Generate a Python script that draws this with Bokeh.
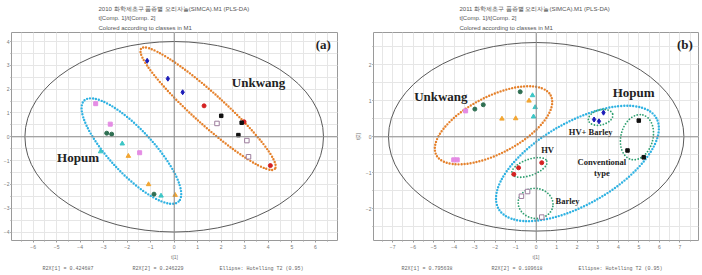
from bokeh.plotting import figure
from bokeh.models import Range1d, Span, Label, Title, SingleIntervalTicker
from bokeh.layouts import row
from bokeh.embed import file_html
from bokeh.resources import INLINE

# ---------------- 2010 PLS-DA scores (panel a) ----------------
a_blue_x = [-1.15, -0.27, 0.36]
a_blue_y = [3.19, 2.44, 1.87]
a_red_x = [1.27, 2.97, 4.09]
a_red_y = [1.30, 0.63, -1.21]
a_black_x = [2.00, 2.87, 2.73]
a_black_y = [0.88, 0.59, 0.07]
a_open_x = [1.82, 3.09, 3.16]
a_open_y = [0.56, -0.16, -0.84]
a_pink_x = [-3.34, -2.72, -1.47]
a_pink_y = [1.39, 0.53, -0.67]
a_green_x = [-2.87, -2.66, -0.86]
a_green_y = [0.15, 0.11, -2.41]
a_cyan_x = [-2.21, -3.13, -0.56]
a_cyan_y = [-0.29, -0.62, -2.48]
a_orange_x = [-1.95, -1.09, 0.04]
a_orange_y = [-0.81, -2.00, -2.45]

# ---------------- 2011 PLS-DA scores (panel b) ----------------
b_green_x = [-0.78, -2.58, -2.99]
b_green_y = [1.25, 0.89, 0.77]
b_cyan_x = [-0.18, -0.05, -0.13]
b_cyan_y = [1.15, 0.82, 0.56]
b_orange_x = [-0.35, -1.67, -1.00]
b_orange_y = [1.00, 0.50, 0.51]
b_pink_x = [-3.44, -4.02, -3.85]
b_pink_y = [0.72, -0.64, -0.64]
b_blue_x = [3.28, 2.82, 3.06]
b_blue_y = [0.67, 0.48, 0.43]
b_black_x = [5.00, 4.45, 5.24]
b_black_y = [0.45, -0.38, -0.57]
b_red_x = [0.27, -0.86, -1.09]
b_red_y = [-0.72, -0.86, -1.04]
b_open_x = [-0.72, -0.42, 0.27]
b_open_y = [-1.65, -1.52, -2.23]

# Hotelling T2 (0.95) ellipse semi-axes
a_t2 = (6.35, 4.0)
b_t2 = (7.2, 2.62)

titles_a = ["2010 화학제초구 품종별 오리자놀(SIMCA).M1 (PLS-DA)",
            "t[Comp. 1]/t[Comp. 2]",
            "Colored according to classes in M1"]
titles_b = ["2011 화학제초구 품종별 오리자놀(SIMCA).M1 (PLS-DA)",
            "t[Comp. 1]/t[Comp. 2]",
            "Colored according to classes in M1"]
foot_a = ["R2X[1] = 0.424687", "R2X[2] = 0.246229", "Ellipse: Hotelling T2 (0.95)"]
foot_b = ["R2X[1] = 0.795638", "R2X[2] = 0.109618", "Ellipse: Hotelling T2 (0.95)"]

BLUE, RED, BLACK, OPEN = "#1c1cb8", "#d42222", "#111111", "#9c7c9c"
PINK, DGREEN, CYAN, ORANGE = "#e48ce4", "#2f6f52", "#3cc6c6", "#f2a531"
OVAL_ORANGE, OVAL_CYAN, OVAL_GREEN = "#e5802a", "#2fb2e2", "#2f9f70"
SERIF = "Liberation Serif"
SANS = "Liberation Sans"
MONO = "Liberation Mono"
NBSP = "\u00a0"


def base_panel(xr, yr, left, right, ylabel):
    p = figure(width=351, height=275, x_range=Range1d(*xr), y_range=Range1d(*yr),
               output_backend="svg", toolbar_location=None, title=None,
               min_border_left=left, min_border_right=right,
               min_border_top=32, min_border_bottom=35,
               background_fill_color="white", border_fill_color="white",
               outline_line_color="#9a9a9a", outline_line_width=1)
    for ax, gr in ((p.xaxis, p.xgrid), (p.yaxis, p.ygrid)):
        t = SingleIntervalTicker(interval=1, num_minor_ticks=2)
        ax.ticker = t
        gr.ticker = t
        gr.grid_line_color = "#e6e6e6"
        gr.minor_grid_line_color = "#e6e6e6"
        ax.axis_line_color = None
        ax.major_tick_line_color = "#9a9a9a"
        ax.minor_tick_line_color = "#9a9a9a"
        ax.major_tick_in = 0
        ax.minor_tick_in = 0
        ax.minor_tick_out = 1
        ax.major_label_text_font = SANS
        ax.major_label_text_font_size = "5px"
        ax.major_label_text_color = "#777777"
        ax.axis_label_text_font = SANS
        ax.axis_label_text_font_size = "5px"
        ax.axis_label_text_font_style = "normal"
        ax.axis_label_text_color = "#777777"
    p.xaxis.major_tick_out = 2
    p.xaxis.major_label_standoff = 2
    p.xaxis.axis_label = "t[1]"
    p.xaxis.axis_label_standoff = 2
    p.yaxis.major_tick_out = 1
    p.yaxis.major_label_standoff = 1
    if ylabel:
        p.yaxis.axis_label = ylabel
        p.yaxis.axis_label_standoff = 2
    else:
        p.yaxis.axis_label_standoff = 0
    p.add_layout(Span(location=0, dimension="height", line_color="#8c8c8c", line_width=1))
    p.add_layout(Span(location=0, dimension="width", line_color="#8c8c8c", line_width=1))
    return p


def head_and_foot(p, titles, foot, shift, foot_shift):
    # header lines, innermost first
    for i, t in enumerate(reversed(titles)):
        p.add_layout(Title(text=t, align="left", offset=shift,
                           standoff=3 if i == 0 else 0.5,
                           text_font=SANS, text_font_size="6px",
                           text_font_style="normal", text_color="#555555"), "above")
    line = foot[0] + NBSP * 13 + foot[1] + NBSP * 12 + foot[2]
    p.add_layout(Title(text=line, align="left", offset=foot_shift, standoff=2,
                       text_font=MONO, text_font_size="5px",
                       text_font_style="normal", text_color="#666666"), "below")


def points(p, x, y, marker, color, size, open_=False):
    p.scatter(x, y, marker=marker, size=size, line_width=1,
              line_color=color, fill_color="white" if open_ else color)


def oval(p, cx, cy, w, h, ang, color, lw, units="data"):
    p.ellipse(x=[cx], y=[cy], width=[w], height=[h], angle=[ang], angle_units="deg",
              width_units=units, height_units=units,
              fill_color=None, line_color=color, line_width=lw,
              line_dash="0 3", line_cap="round")


def tag(p, x, y, text, size, align="left"):
    p.add_layout(Label(x=x, y=y, text=text, text_font=SERIF, text_font_style="bold",
                       text_font_size=size, text_color="#222222",
                       text_align=align, text_baseline="middle"))


# ---------------- panel a ----------------
pa = base_panel((-6.92, 6.945), (-4.357, 4.38), 7, 14, None)
pa.ellipse(x=[0], y=[0], width=[2 * a_t2[0]], height=[2 * a_t2[1]],
           fill_color=None, line_color="#5a5a5a", line_width=1)
oval(pa, 1.44, 1.18, 7.65, 1.30, -42, OVAL_ORANGE, 2.4)
oval(pa, -1.82, -0.60, 5.88, 1.85, -47, OVAL_CYAN, 2.4)
points(pa, a_blue_x, a_blue_y, "diamond", BLUE, 5)
points(pa, a_red_x, a_red_y, "circle", RED, 4)
points(pa, a_black_x, a_black_y, "square", BLACK, 3.5)
points(pa, a_open_x, a_open_y, "square", OPEN, 4.5, open_=True)
points(pa, a_pink_x, a_pink_y, "square", PINK, 4)
points(pa, a_green_x, a_green_y, "circle", DGREEN, 4)
points(pa, a_cyan_x, a_cyan_y, "triangle", CYAN, 4.5)
points(pa, a_orange_x, a_orange_y, "triangle", ORANGE, 4.5)
tag(pa, 2.45, 2.27, "Unkwang", "13px")
tag(pa, -4.98, -0.88, "Hopum", "13px")
tag(pa, 6.02, 3.88, "(a)", "13px")
head_and_foot(pa, titles_a, foot_a, 87, 31)

# ---------------- panel b ----------------
pb = base_panel((-7.93, 7.91), (-2.88, 2.897), 16, 4, "t[2]")
pb.ellipse(x=[0], y=[0], width=[2 * b_t2[0]], height=[2 * b_t2[1]],
           fill_color=None, line_color="#5a5a5a", line_width=1)
oval(pb, -2.08, 0.32, 129, 57, 27.5, OVAL_ORANGE, 2.4, "screen")
oval(pb, 2.01, -0.74, 182, 82, 30, OVAL_CYAN, 2.4, "screen")
oval(pb, 3.14, 0.54, 25, 15, 15, OVAL_GREEN, 1.8, "screen")
oval(pb, 4.91, -0.01, 46, 32, 75, OVAL_GREEN, 1.8, "screen")
oval(pb, -0.33, -0.85, 37, 16, 20, OVAL_GREEN, 1.8, "screen")
oval(pb, -0.03, -1.85, 35, 30, -10, OVAL_GREEN, 1.8, "screen")
points(pb, b_green_x, b_green_y, "circle", DGREEN, 4)
points(pb, b_cyan_x, b_cyan_y, "triangle", CYAN, 4.5)
points(pb, b_orange_x, b_orange_y, "triangle", ORANGE, 4.5)
points(pb, b_pink_x, b_pink_y, "square", PINK, 4)
points(pb, b_blue_x, b_blue_y, "diamond", BLUE, 5)
points(pb, b_black_x, b_black_y, "square", BLACK, 3.5)
points(pb, b_red_x, b_red_y, "circle", RED, 4)
points(pb, b_open_x, b_open_y, "square", OPEN, 4.5, open_=True)
tag(pb, -5.95, 1.12, "Unkwang", "13px")
tag(pb, 3.73, 1.22, "Hopum", "13px")
tag(pb, 6.86, 2.56, "(b)", "13px")
tag(pb, 1.59, 0.147, "HV+ Barley", "8.5px")
tag(pb, 0.24, -0.38, "HV", "8.5px")
tag(pb, 3.2, -0.705, "Conventional", "8.5px", "center")
tag(pb, 3.2, -1.0, "type", "8.5px", "center")
tag(pb, 0.94, -1.77, "Barley", "8.5px")
head_and_foot(pb, titles_b, foot_b, 86, 28)

layout = row(pa, pb)
open("out.html", "w").write(file_html(layout, INLINE))
